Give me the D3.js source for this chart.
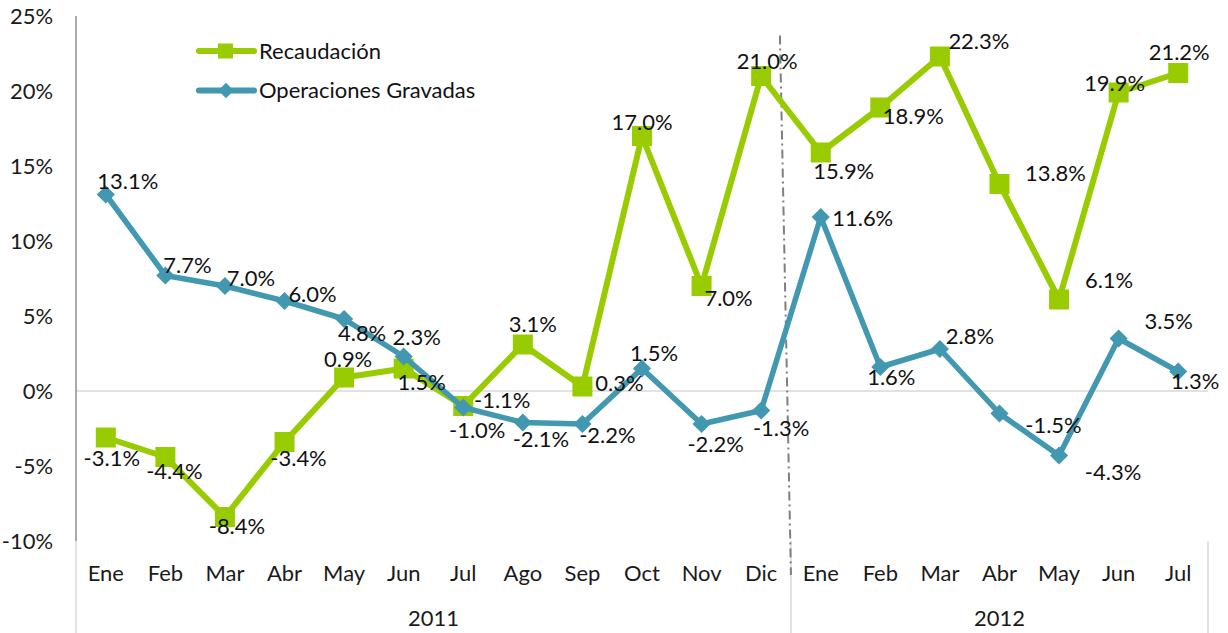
<!DOCTYPE html>
<html>
<head>
<meta charset="utf-8">
<script src="https://cdn.jsdelivr.net/npm/d3@7"></script>
<style>
  html, body { margin: 0; padding: 0; background: #fff; }
  svg { display: block; }
</style>
</head>
<body>
<svg id="chart" width="1228" height="633"></svg>
<script>
// ---- data ----
const categories = ["Ene","Feb","Mar","Abr","May","Jun","Jul","Ago","Sep","Oct","Nov","Dic",
                    "Ene","Feb","Mar","Abr","May","Jun","Jul"];
const years = ["2011", "2012"];
const yearCounts = [12, 7];
const recaudacion = [-3.1, -4.4, -8.4, -3.4, 0.9, 1.5, -1.0, 3.1, 0.3, 17.0, 7.0, 21.0,
                     15.9, 18.9, 22.3, 13.8, 6.1, 19.9, 21.2];
const operaciones = [13.1, 7.7, 7.0, 6.0, 4.8, 2.3, -1.1, -2.1, -2.2, 1.5, -2.2, -1.3,
                     11.6, 1.6, 2.8, -1.5, -4.3, 3.5, 1.3];
const yTicks = [-10, -5, 0, 5, 10, 15, 20, 25];
const seriesNames = ["Recaudación", "Operaciones Gravadas"];

// label nudges (layout only, px)
const recNudge = [[6,21],[9,14],[12,9],[14,16],[4,-18],[18,14],[14,24],[10,-20],[37,-3],[0,-14],
                  [27,12],[6,-15],[23,19],[33,9],[39,-15],[56,-11],[50,-19],[-4,-9],[1,-21]];
const opNudge  = [[22,-13],[22,-10],[26,-8],[28,-7],[18,14],[13,-19],[39,-7],[18,17],[25,11],[12,-15],
                  [14,20],[20,18],[42,1],[11,10],[30,-13],[54,12],[54,17],[50,-17],[17,10]];

// ---- styles ----
const GREEN = "#99CC00";
const BLUE = "#4198B0";
const FONT = "Lato, 'Open Sans', sans-serif";

const svg = d3.select("#chart");

// calibrate font size to match reference text widths
const probe = svg.append("text").attr("font-family", FONT).attr("font-size", 20).text("Recaudación");
const w20 = probe.node().getComputedTextLength();
probe.remove();
const FS = 20 * 122 / w20;

const plot = { left: 76, right: 1208, top: 16, bottom: 541 };

const x = d3.scaleBand().domain(d3.range(categories.length)).range([plot.left, plot.right]).padding(0);
const cx = i => x(i) + x.bandwidth() / 2;
const y = d3.scaleLinear().domain([-10, 25]).range([plot.bottom, plot.top]);

// zero line
svg.append("line")
  .attr("x1", plot.left).attr("x2", plot.right)
  .attr("y1", y(0)).attr("y2", y(0))
  .attr("stroke", "#d9d9d9").attr("stroke-width", 1.5);

// y axis
const yAxis = svg.append("g")
  .attr("transform", `translate(${plot.left},0)`)
  .call(d3.axisLeft(y).tickValues(yTicks).tickSize(0).tickPadding(23).tickFormat(d => d + "%"));
yAxis.select(".domain").remove();
yAxis.selectAll("text").attr("font-family", FONT).attr("font-size", FS).attr("fill", "#1a1a1a").attr("dy", "0.35em");
svg.append("line").attr("x1", plot.left).attr("x2", plot.left).attr("y1", plot.top).attr("y2", plot.bottom)
  .attr("stroke", "#8c8c8c").attr("stroke-width", 1.5);

// multi-level category axis
const xAxis = svg.append("g")
  .attr("transform", `translate(0,${plot.bottom})`)
  .call(d3.axisBottom(x).tickSize(0).tickPadding(0).tickFormat(i => categories[i]));
xAxis.select(".domain").remove();
xAxis.selectAll("text").attr("font-family", FONT).attr("font-size", FS).attr("fill", "#1a1a1a")
  .attr("y", 32).attr("dy", "0.35em");

// group separators
let start = 0;
const bounds = [0];
yearCounts.forEach(c => { start += c; bounds.push(start); });
bounds.forEach(b => {
  const bx = b < categories.length ? x(b) : plot.right;
  svg.append("line").attr("x1", bx).attr("x2", bx).attr("y1", plot.bottom).attr("y2", 633)
    .attr("stroke", "#d9d9d9").attr("stroke-width", 1.5);
});
years.forEach((yr, k) => {
  const a = x(bounds[k]);
  const b = bounds[k + 1] < categories.length ? x(bounds[k + 1]) : plot.right;
  svg.append("text").attr("x", (a + b) / 2).attr("y", 618).attr("dy", "0.35em")
    .attr("text-anchor", "middle").attr("font-family", FONT).attr("font-size", FS).attr("fill", "#1a1a1a")
    .text(yr);
});

// dash-dot divider between years
const divX = x(yearCounts[0]);
svg.append("line")
  .attr("x1", divX - 11).attr("y1", y(23.7))
  .attr("x2", divX).attr("y2", 575)
  .attr("stroke", "#7f7f7f").attr("stroke-width", 2).attr("stroke-dasharray", "9,4,2,4");

// lines
const line = d3.line().x((d, i) => cx(i)).y(d => y(d));
svg.append("path").datum(recaudacion).attr("d", line)
  .attr("fill", "none").attr("stroke", GREEN).attr("stroke-width", 6).attr("stroke-linejoin", "round");
svg.selectAll(".sq").data(recaudacion).enter().append("rect")
  .attr("x", (d, i) => cx(i) - 10).attr("y", d => y(d) - 10)
  .attr("width", 20).attr("height", 20).attr("fill", GREEN);

svg.append("path").datum(operaciones).attr("d", line)
  .attr("fill", "none").attr("stroke", BLUE).attr("stroke-width", 5.5).attr("stroke-linejoin", "round");
const diamond = d3.symbol().type(d3.symbolSquare).size(165);
svg.selectAll(".dm").data(operaciones).enter().append("path")
  .attr("d", diamond)
  .attr("transform", (d, i) => `translate(${cx(i)},${y(d)}) rotate(45)`)
  .attr("fill", BLUE);

// data labels
const fmt = v => v.toFixed(1) + "%";
function labels(data, nudge) {
  svg.append("g").selectAll("text").data(data).enter().append("text")
    .attr("x", (d, i) => cx(i) + nudge[i][0])
    .attr("y", (d, i) => y(d) + nudge[i][1])
    .attr("dy", "0.35em").attr("text-anchor", "middle")
    .attr("font-family", FONT).attr("font-size", FS).attr("fill", "#111")
    .text(fmt);
}
labels(recaudacion, recNudge);
labels(operaciones, opNudge);

// legend
const legend = svg.append("g");
[GREEN, BLUE].forEach((c, k) => {
  const ly = 51 + k * 39.5;
  legend.append("line").attr("x1", 199).attr("x2", 254).attr("y1", ly).attr("y2", ly)
    .attr("stroke", c).attr("stroke-width", 6).attr("stroke-linecap", "round");
  if (k === 0) {
    legend.append("rect").attr("x", 218).attr("y", ly - 7.5).attr("width", 15).attr("height", 15).attr("fill", c);
  } else {
    legend.append("path").attr("d", d3.symbol().type(d3.symbolSquare).size(120)())
      .attr("transform", `translate(226,${ly}) rotate(45)`).attr("fill", c);
  }
  legend.append("text").attr("x", 259).attr("y", ly).attr("dy", "0.35em")
    .attr("font-family", FONT).attr("font-size", FS).attr("fill", "#111")
    .text(seriesNames[k]);
});
</script>
</body>
</html>
